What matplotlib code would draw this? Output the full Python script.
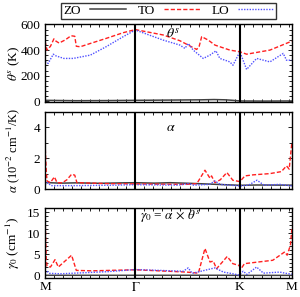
import numpy as np
import matplotlib
matplotlib.use("Agg")
import matplotlib.pyplot as plt
from matplotlib.ticker import MultipleLocator

plt.rcParams['font.family'] = ['Liberation Serif', 'DejaVu Serif']
plt.rcParams['mathtext.fontset'] = 'stix'
plt.rcParams['font.size'] = 9.5

# high-symmetry points along M-G-K-M (path length)
sym_pos = [0.0, 0.5774, 1.2440, 1.5774]
sym_lab = ['M', r'$\Gamma$', 'K', 'M']

# theta^s (K)
q_th_zo = [0, 0.2, 0.4, 0.577, 0.8, 1.0, 1.08, 1.15, 1.2, 1.245, 1.4, 1.577]
th_zo = [8, 5, 6, 8, 10, 12, 14, 12, 8, 3, 2, 3]
q_th_to = [0, 0.013, 0.035, 0.057, 0.07, 0.09, 0.13, 0.166, 0.19, 0.20, 0.225,
           0.29, 0.39, 0.50, 0.577, 0.755, 0.862, 0.969, 0.985, 1.001, 1.043,
           1.086, 1.181, 1.245, 1.288, 1.437, 1.577]
th_to = [470, 400, 430, 488, 470, 455, 480, 512, 508, 430, 426,
         452, 491, 536, 560, 518, 473, 405, 430, 505, 478,
         439, 400, 387, 368, 400, 470]
q_th_lo = [0, 0.02, 0.053, 0.07, 0.12, 0.18, 0.29, 0.39, 0.50, 0.577, 0.755,
           0.862, 0.894, 0.915, 0.947, 1.011, 1.054, 1.092, 1.117, 1.181,
           1.201, 1.245, 1.288, 1.352, 1.437, 1.522, 1.543, 1.577]
th_lo = [310, 296, 368, 355, 335, 335, 361, 426, 505, 557, 478,
         439, 413, 452, 400, 335, 361, 394, 335, 308,
         282, 387, 249, 335, 308, 374, 321, 321]

# alpha (1e-2 cm^-1/K)
q_a_zo = [0, 0.1, 0.2, 0.35, 0.5, 0.577, 0.7, 0.8, 0.95, 1.1, 1.245, 1.35, 1.577]
a_zo = [0.42, 0.38, 0.40, 0.37, 0.40, 0.41, 0.38, 0.41, 0.36, 0.30, 0.24, 0.26, 0.25]
q_a_to = [0, 0.008, 0.013, 0.035, 0.06, 0.077, 0.11, 0.14, 0.17, 0.19, 0.204,
          0.4, 0.577, 0.9, 0.97, 1.022, 1.054, 1.064, 1.086, 1.12, 1.162,
          1.20, 1.245, 1.277, 1.33, 1.437, 1.51, 1.543, 1.56, 1.577]
a_to = [3.0, 1.2, 0.52, 0.42, 0.79, 0.41, 0.40, 0.6, 0.96, 0.9, 0.41,
        0.35, 0.33, 0.30, 0.35, 1.22, 0.7, 0.85, 0.41, 0.6, 1.07,
        0.57, 0.48, 0.85, 0.92, 1.0, 1.13, 1.5, 1.29, 3.0]
q_a_lo = [0, 0.015, 0.04, 0.2, 0.45, 0.577, 0.85, 0.915, 0.95, 1.05, 1.086,
          1.12, 1.245, 1.3, 1.354, 1.4, 1.5, 1.577]
a_lo = [0.25, 0.41, 0.22, 0.22, 0.25, 0.28, 0.25, 0.35, 0.25, 0.3, 0.52,
        0.3, 0.2, 0.25, 0.57, 0.25, 0.3, 0.2]

# gamma_0 (cm^-1)
q_g_zo = [0, 0.577, 1.1, 1.245, 1.577]
g_zo = [0.04, 0.04, 0.05, 0.02, 0.02]
q_g_to = [0, 0.008, 0.013, 0.035, 0.064, 0.085, 0.17, 0.20, 0.3, 0.577,
          0.905, 0.98, 1.022, 1.054, 1.075, 1.096, 1.164, 1.2, 1.238,
          1.253, 1.274, 1.455, 1.532, 1.547, 1.568, 1.577]
g_to = [15.0, 4.0, 2.2, 2.0, 3.75, 2.0, 4.8, 1.2, 1.1, 1.35,
        0.8, 0.55, 6.4, 3.2, 3.4, 1.6, 4.5, 2.8, 2.4,
        1.6, 2.8, 3.6, 5.6, 4.8, 7.2, 11.0]
q_g_lo = [0, 0.013, 0.03, 0.1, 0.4, 0.577, 0.883, 0.915, 0.94, 1.086, 1.14,
          1.2, 1.24, 1.266, 1.29, 1.352, 1.395, 1.5, 1.54, 1.577]
g_lo = [0.6, 1.0, 0.5, 0.4, 0.9, 1.4, 1.0, 1.8, 0.5, 1.8, 0.8,
        0.4, 0.1, 1.0, 0.25, 2.0, 0.55, 0.8, 0.5, 0.3]

sty = {
    'ZO': dict(color='#404040', ls='-', lw=1.1),
    'TO': dict(color='#ff2020', ls=(0, (3, 1.5)), lw=1.0),
    'LO': dict(color='#5050ff', ls=(0, (1, 1)), lw=1.0),
}

fig = plt.figure(figsize=(3.0, 2.97), dpi=100)
boxes = [(0.15, 0.6566, 0.823, 0.261),
         (0.15, 0.3636, 0.823, 0.2593),
         (0.15, 0.064, 0.823, 0.2357)]
axs = [fig.add_axes(b) for b in boxes]

panels = [
    (axs[0], (q_th_zo, th_zo), (q_th_to, th_to), (q_th_lo, th_lo)),
    (axs[1], (q_a_zo, a_zo), (q_a_to, a_to), (q_a_lo, a_lo)),
    (axs[2], (q_g_zo, g_zo), (q_g_to, g_to), (q_g_lo, g_lo)),
]
lines = []
for ax, zo, to, lo in panels:
    l1, = ax.plot(*zo, **sty['ZO'], label='ZO')
    l2, = ax.plot(*to, **sty['TO'], label='TO')
    l3, = ax.plot(*lo, **sty['LO'], label='LO')
    lines = [l1, l2, l3]
    for p in sym_pos[1:3]:
        ax.axvline(p, color='black', lw=1.5, zorder=5)
    ax.set_xlim(sym_pos[0], sym_pos[-1])
    ax.set_xticks(sym_pos)
    ax.xaxis.set_minor_locator(MultipleLocator(0.0577))
    ax.tick_params(which='both', direction='in', top=True, right=True,
                   length=3, width=0.6, labelsize=9.5)
    ax.tick_params(which='minor', length=2)
    ax.tick_params(axis='x', which='major', length=0)
    for s in ax.spines.values():
        s.set_linewidth(1.0)

axs[0].set_ylim(-5, 600)
axs[0].yaxis.set_major_locator(MultipleLocator(200))
axs[0].yaxis.set_minor_locator(MultipleLocator(40))
axs[0].set_ylabel(r'$\theta^s$ (K)', fontsize=9.5)
axs[0].text(0.77, 525, r'$\theta^s$', fontsize=10, va='center')

axs[1].set_ylim(0, 5)
axs[1].yaxis.set_major_locator(MultipleLocator(2))
axs[1].yaxis.set_minor_locator(MultipleLocator(1))
axs[1].set_ylabel(r'$\alpha$ (10$^{-2}$ cm$^{-1}$/K)', fontsize=9)
axs[1].text(0.77, 4.0, r'$\alpha$', fontsize=10, va='center')

axs[2].set_ylim(-0.6, 16)
axs[2].yaxis.set_major_locator(MultipleLocator(5))
axs[2].yaxis.set_minor_locator(MultipleLocator(1))
axs[2].set_ylabel(r'$\gamma_0$ (cm$^{-1}$)', fontsize=9.5)
axs[2].text(0.61, 14.0, r'$\gamma_0$ = $\alpha$ $\times$ $\theta^s$',
            fontsize=9.5, va='center')

for ax in axs[:2]:
    ax.set_xticklabels([])
axs[2].set_xticklabels(sym_lab)
axs[2].tick_params(axis='x', pad=2)

for ax in axs:
    ax.yaxis.set_label_coords(-0.095, 0.5)

leg = fig.legend(lines, ['ZO', 'TO', 'LO'], loc='upper center',
                 bbox_to_anchor=(0.562, 0.995), ncol=3, markerfirst=False,
                 frameon=True, fancybox=False, edgecolor='black',
                 handlelength=2.7, columnspacing=0.9, handletextpad=0.7,
                 borderpad=0.15, borderaxespad=0.1, fontsize=9.5)
leg.get_frame().set_linewidth(1.0)

fig.savefig('out.png', dpi=100)
